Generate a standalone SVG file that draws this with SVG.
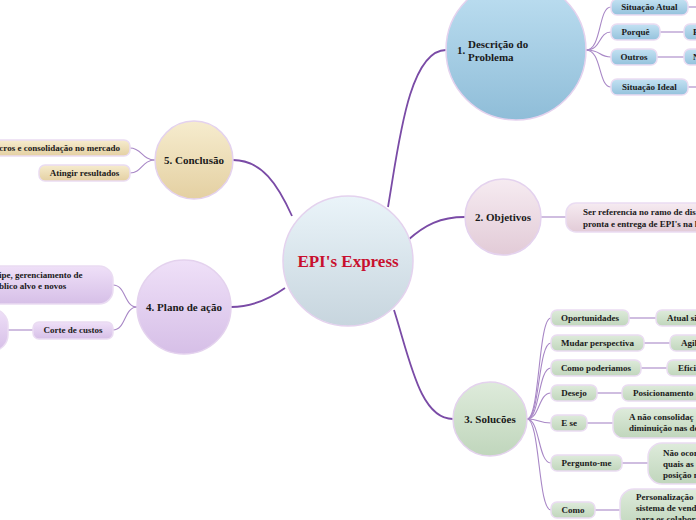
<svg xmlns="http://www.w3.org/2000/svg" width="696" height="520" viewBox="0 0 696 520">
<defs>
<linearGradient id="gC" x1="0" y1="0" x2="0" y2="1"><stop offset="0" stop-color="#eaf4f9"/><stop offset="1" stop-color="#c7d5de"/></linearGradient>
<linearGradient id="gB" x1="0" y1="0" x2="0" y2="1"><stop offset="0" stop-color="#bfe0f2"/><stop offset="1" stop-color="#8fbdd8"/></linearGradient>
<linearGradient id="gBp" x1="0" y1="0" x2="0" y2="1"><stop offset="0" stop-color="#c4e2f3"/><stop offset="1" stop-color="#94c2dc"/></linearGradient>
<linearGradient id="gP" x1="0" y1="0" x2="0" y2="1"><stop offset="0" stop-color="#f6ebf1"/><stop offset="1" stop-color="#e2cbd7"/></linearGradient>
<linearGradient id="gG" x1="0" y1="0" x2="0" y2="1"><stop offset="0" stop-color="#deebdb"/><stop offset="1" stop-color="#c0d6bc"/></linearGradient>
<linearGradient id="gT" x1="0" y1="0" x2="0" y2="1"><stop offset="0" stop-color="#f6ecce"/><stop offset="1" stop-color="#e4d0a2"/></linearGradient>
<linearGradient id="gL" x1="0" y1="0" x2="0" y2="1"><stop offset="0" stop-color="#efe0f8"/><stop offset="1" stop-color="#d6bfe7"/></linearGradient>
</defs>
<style>
.main{fill:none;stroke:#7a4ba6;stroke-width:1.8}
.sub{fill:none;stroke:#a887c6;stroke-width:1.1}
.circ{stroke:#e4d2ee;stroke-width:1.5}
.pill{stroke:#eadcf2;stroke-width:1.5}
text{font-family:"Liberation Serif","Times New Roman",serif;font-weight:bold;fill:#1a1a1a}
.t9{font-size:9px}
.t11{font-size:11px}
.title{font-size:17px;fill:#c8102e}
</style>
<g id="connectors">
<path class="main" d="M388,207 C398,150 408,50 446,50"/>
<path class="main" d="M408,240 C425,225 440,217 465,217"/>
<path class="main" d="M394,310 C410,360 420,419 453,419"/>
<path class="main" d="M292,216 C278,185 262,160 233,160"/>
<path class="main" d="M285,288 C268,300 250,307 231,307"/>
<path class="sub" d="M586,50 C602,50 598,7 611,7"/>
<path class="sub" d="M586,50 C602,50 598,32 611,32"/>
<path class="sub" d="M586,50 C602,50 598,57 611,57"/>
<path class="sub" d="M586,50 C602,50 598,87 611,87"/>
<path class="sub" d="M688,7 L696,7"/>
<path class="sub" d="M660,32 L684,32"/>
<path class="sub" d="M657,57 L684,57"/>
<path class="sub" d="M688,87 L696,87"/>
<path class="sub" d="M541,217 L566,217"/>
<path class="sub" d="M527,419 C540,419 538,318 551,318"/>
<path class="sub" d="M527,419 C540,419 538,343 551,343"/>
<path class="sub" d="M527,419 C540,419 538,368 551,368"/>
<path class="sub" d="M527,419 C540,419 538,393 551,393"/>
<path class="sub" d="M527,419 C540,419 538,423 551,423"/>
<path class="sub" d="M527,419 C540,419 538,463 551,463"/>
<path class="sub" d="M527,419 C540,419 538,510 551,510"/>
<path class="sub" d="M629,318 L656,318"/>
<path class="sub" d="M644,343 L670,343"/>
<path class="sub" d="M641,368 L667,368"/>
<path class="sub" d="M597,393 L622,393"/>
<path class="sub" d="M587,423 L613,423"/>
<path class="sub" d="M622,463 L648,463"/>
<path class="sub" d="M595,510 L620,510"/>
<path class="sub" d="M155,160 C142,160 142,148 130,148"/>
<path class="sub" d="M155,160 C142,160 142,173 130,173"/>
<path class="sub" d="M137,307 C124,307 126,285 113,285"/>
<path class="sub" d="M137,307 C124,307 126,330 113,330"/>
<path class="sub" d="M8,330 L33,330"/>
</g>
<g id="central">
<circle class="circ" cx="348" cy="261" r="65" fill="url(#gC)"/>
<text class="title" x="348" y="267" text-anchor="middle">EPI's Express</text>
</g>
<g id="n1">
<circle class="circ" cx="516" cy="50" r="70" fill="url(#gB)"/>
<text class="t11" x="457" y="54">1.</text>
<text class="t11" x="468" y="48">Descrição do</text>
<text class="t11" x="468" y="61">Problema</text>
</g>
<g id="n1a"><rect class="pill" x="611" y="-1" width="77" height="16" rx="6" fill="url(#gBp)"/><text class="t9" x="649.5" y="10" text-anchor="middle">Situação Atual</text></g>
<g id="n1b"><rect class="pill" x="611" y="24" width="49" height="16" rx="6" fill="url(#gBp)"/><text class="t9" x="635.5" y="35" text-anchor="middle">Porquê</text></g>
<g id="n1b2"><rect class="pill" x="684" y="24" width="30" height="16" rx="6" fill="url(#gBp)"/><text class="t9" x="693" y="35">P</text></g>
<g id="n1c"><rect class="pill" x="611" y="49" width="46" height="16" rx="6" fill="url(#gBp)"/><text class="t9" x="634" y="60" text-anchor="middle">Outros</text></g>
<g id="n1c2"><rect class="pill" x="684" y="49" width="30" height="16" rx="6" fill="url(#gBp)"/><text class="t9" x="693" y="60">N</text></g>
<g id="n1d"><rect class="pill" x="611" y="79" width="77" height="16" rx="6" fill="url(#gBp)"/><text class="t9" x="649.5" y="90" text-anchor="middle">Situação Ideal</text></g>
<g id="n2">
<circle class="circ" cx="503" cy="217" r="38" fill="url(#gP)"/>
<text class="t11" x="503" y="221" text-anchor="middle">2. Objetivos</text>
</g>
<g id="n2a"><rect class="pill" x="566" y="203" width="160" height="29" rx="10" fill="url(#gP)"/><text class="t9" x="583" y="215">Ser referencia no ramo de dis</text><text class="t9" x="583" y="227">pronta e entrega de EPI's na l</text></g>
<g id="n3">
<circle class="circ" cx="490" cy="419" r="37" fill="url(#gG)"/>
<text class="t11" x="490" y="423" text-anchor="middle">3. Solucões</text>
</g>
<g id="n3a"><rect class="pill" x="551" y="310" width="78" height="16" rx="6" fill="url(#gG)"/><text class="t9" x="590" y="321" text-anchor="middle">Oportunidades</text></g>
<g id="n3a2"><rect class="pill" x="656" y="310" width="60" height="16" rx="6" fill="url(#gG)"/><text class="t9" x="667" y="321">Atual si</text></g>
<g id="n3b"><rect class="pill" x="551" y="335" width="93" height="16" rx="6" fill="url(#gG)"/><text class="t9" x="597.5" y="346" text-anchor="middle">Mudar perspectiva</text></g>
<g id="n3b2"><rect class="pill" x="670" y="335" width="50" height="16" rx="6" fill="url(#gG)"/><text class="t9" x="681" y="346">Agil</text></g>
<g id="n3c"><rect class="pill" x="551" y="360" width="90" height="16" rx="6" fill="url(#gG)"/><text class="t9" x="596" y="371" text-anchor="middle">Como poderiamos</text></g>
<g id="n3c2"><rect class="pill" x="667" y="360" width="50" height="16" rx="6" fill="url(#gG)"/><text class="t9" x="678" y="371">Efici</text></g>
<g id="n3d"><rect class="pill" x="551" y="385" width="46" height="16" rx="6" fill="url(#gG)"/><text class="t9" x="574" y="396" text-anchor="middle">Desejo</text></g>
<g id="n3d2"><rect class="pill" x="622" y="385" width="100" height="16" rx="6" fill="url(#gG)"/><text class="t9" x="633" y="396">Posicionamento</text></g>
<g id="n3e"><rect class="pill" x="551" y="415" width="36" height="16" rx="6" fill="url(#gG)"/><text class="t9" x="569" y="426" text-anchor="middle">E se</text></g>
<g id="n3e2"><rect class="pill" x="613" y="408" width="110" height="30" rx="10" fill="url(#gG)"/><text class="t9" x="629" y="420">A não  consolidaç</text><text class="t9" x="629" y="431">diminuição nas de</text></g>
<g id="n3f"><rect class="pill" x="551" y="455" width="71" height="16" rx="6" fill="url(#gG)"/><text class="t9" x="586.5" y="466" text-anchor="middle">Pergunto-me</text></g>
<g id="n3f2"><rect class="pill" x="648" y="443" width="80" height="41" rx="14" fill="url(#gG)"/><text class="t9" x="663" y="456">Não ocor</text><text class="t9" x="663" y="467">quais as</text><text class="t9" x="663" y="478">posição n</text></g>
<g id="n3g"><rect class="pill" x="551" y="502" width="44" height="16" rx="6" fill="url(#gG)"/><text class="t9" x="573" y="513" text-anchor="middle">Como</text></g>
<g id="n3g2"><rect class="pill" x="620" y="489" width="100" height="40" rx="14" fill="url(#gG)"/><text class="t9" x="636" y="500">Personalização</text><text class="t9" x="636" y="511">sistema de vend</text><text class="t9" x="636" y="522">para os colabor</text></g>
<g id="n5">
<circle class="circ" cx="194" cy="160" r="39" fill="url(#gT)"/>
<text class="t11" x="194" y="164" text-anchor="middle">5. Conclusão</text>
</g>
<g id="n5a"><rect class="pill" x="-20" y="140" width="150" height="16" rx="6" fill="url(#gT)"/><text class="t9" x="120" y="151" text-anchor="end">cros e consolidação no mercado</text></g>
<g id="n5b"><rect class="pill" x="39" y="165" width="91" height="16" rx="6" fill="url(#gT)"/><text class="t9" x="84.5" y="176" text-anchor="middle">Atingir resultados</text></g>
<g id="n4">
<circle class="circ" cx="184" cy="307" r="47" fill="url(#gL)"/>
<text class="t11" x="184" y="311" text-anchor="middle">4. Plano de ação</text>
</g>
<g id="n4a"><rect class="pill" x="-40" y="266" width="153" height="38" rx="14" fill="url(#gL)"/><text class="t9" x="-1" y="278">ipe, gerenciamento de</text><text class="t9" x="-1" y="289">blico alvo e novos</text></g>
<g id="n4b"><rect class="pill" x="33" y="322" width="80" height="17" rx="6" fill="url(#gL)"/><text class="t9" x="73" y="333" text-anchor="middle">Corte de custos</text></g>
<g id="n4c"><rect class="pill" x="-60" y="309" width="68" height="42" rx="16" fill="url(#gL)"/></g>
</svg>
